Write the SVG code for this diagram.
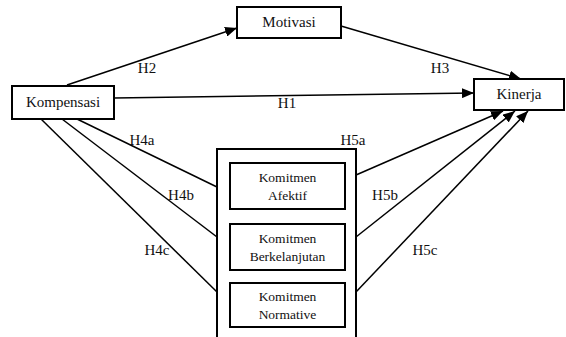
<svg xmlns="http://www.w3.org/2000/svg" width="566" height="337" viewBox="0 0 566 337">
<style>
.box{fill:#fff;stroke:#000;stroke-width:2}
.t{font-family:'Liberation Serif','DejaVu Serif','Noto Serif',serif;font-size:15px;fill:#111;text-anchor:middle}
.s{font-family:'Liberation Serif','DejaVu Serif','Noto Serif',serif;font-size:13.5px;fill:#111;text-anchor:middle}
.e{stroke:#000;stroke-width:1.5;fill:none}
</style>
<defs>
<marker id="arr" viewBox="0 0 12 10" refX="12" refY="5" markerWidth="12" markerHeight="10" markerUnits="userSpaceOnUse" orient="auto">
<path d="M0,0 L12,5 L0,10 z" fill="#000"/>
</marker>
</defs>
<rect width="566" height="337" fill="#fff"/>
<g id="connectors">
<line class="e" x1="67" y1="85" x2="237" y2="28" marker-end="url(#arr)"/>
<line class="e" x1="114" y1="98" x2="474" y2="93" marker-end="url(#arr)"/>
<line class="e" x1="341" y1="26" x2="521" y2="79" marker-end="url(#arr)"/>
<line class="e" x1="77" y1="119" x2="217" y2="187"/>
<line class="e" x1="62" y1="119" x2="217" y2="237"/>
<line class="e" x1="41" y1="119" x2="217" y2="292"/>
<line class="e" x1="356" y1="175" x2="503" y2="111" marker-end="url(#arr)"/>
<line class="e" x1="356" y1="237" x2="515" y2="111" marker-end="url(#arr)"/>
<line class="e" x1="356" y1="292" x2="528" y2="111" marker-end="url(#arr)"/>
<text class="t" x="147" y="73">H2</text>
<text class="t" x="287" y="108">H1</text>
<text class="t" x="440" y="73">H3</text>
<text class="t" x="142" y="145">H4a</text>
<text class="t" x="181" y="200">H4b</text>
<text class="t" x="157" y="255">H4c</text>
<text class="t" x="353" y="145">H5a</text>
<text class="t" x="385" y="200">H5b</text>
<text class="t" x="425" y="255">H5c</text>
</g>
<g id="motivasi">
<rect class="box" x="237" y="7" width="104" height="31"/>
<text class="t" x="289" y="27">Motivasi</text>
</g>
<g id="kompensasi">
<rect class="box" x="12" y="86" width="102" height="33"/>
<text class="t" x="63" y="107">Kompensasi</text>
</g>
<g id="kinerja">
<rect class="box" x="474" y="79" width="90" height="31"/>
<text class="t" x="519" y="99">Kinerja</text>
</g>
<g id="komitmen">
<rect class="box" x="217" y="149" width="139" height="200"/>
</g>
<g id="afektif">
<rect class="box" x="230" y="163" width="115" height="46"/>
<text class="s" x="287.5" y="182">Komitmen</text>
<text class="s" x="287.5" y="200">Afektif</text>
</g>
<g id="berkelanjutan">
<rect class="box" x="230" y="224" width="115" height="46"/>
<text class="s" x="287.5" y="243">Komitmen</text>
<text class="s" x="287.5" y="261">Berkelanjutan</text>
</g>
<g id="normative">
<rect class="box" x="230" y="283" width="115" height="44"/>
<text class="s" x="287.5" y="301">Komitmen</text>
<text class="s" x="287.5" y="319">Normative</text>
</g>
</svg>
